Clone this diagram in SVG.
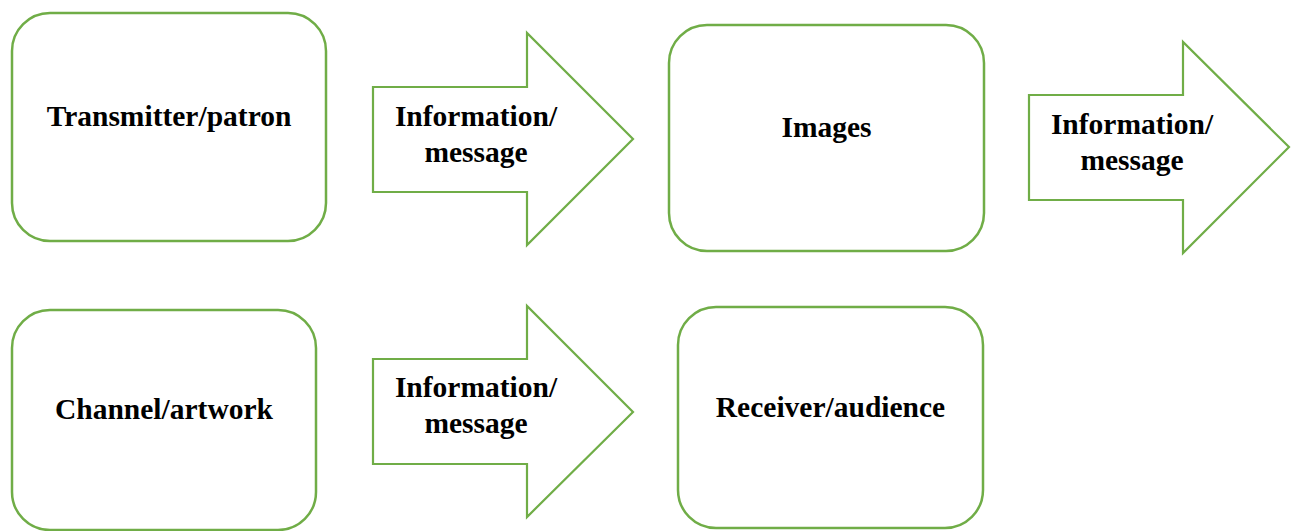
<svg xmlns="http://www.w3.org/2000/svg" width="1293" height="531" viewBox="0 0 1293 531">
<style>
.box{fill:#fff;stroke:#70AD47;stroke-width:2.5}
.arr{fill:#fff;stroke:#70AD47;stroke-width:2.2;stroke-linejoin:miter}
.t{font-family:"Liberation Serif","Times New Roman",serif;font-weight:bold;font-size:29.5px;fill:#000;text-anchor:middle}
</style>
<rect width="1293" height="531" fill="#fff"/>
<g id="transmitter">
<rect class="box" x="12" y="13" width="314" height="228" rx="38" ry="38"/>
<text class="t" x="169" y="126">Transmitter/patron</text>
</g>
<g id="images">
<rect class="box" x="669" y="25" width="315" height="226" rx="38" ry="38"/>
<text class="t" x="826.5" y="137">Images</text>
</g>
<g id="channel">
<rect class="box" x="12" y="310" width="304" height="220" rx="38" ry="38"/>
<text class="t" x="164" y="419">Channel/artwork</text>
</g>
<g id="receiver">
<rect class="box" x="678" y="307" width="305" height="221" rx="38" ry="38"/>
<text class="t" x="830.5" y="417">Receiver/audience</text>
</g>
<g id="connectors">
<g id="arrow1">
<polygon class="arr" points="373,87 527,87 527,33 633,139 527,245 527,192 373,192"/>
<text class="t" x="476" y="126">Information/</text>
<text class="t" x="476" y="162">message</text>
</g>
<g id="arrow2">
<polygon class="arr" points="1029,95 1183,95 1183,42 1289,147 1183,253 1183,200 1029,200"/>
<text class="t" x="1132" y="134">Information/</text>
<text class="t" x="1132" y="170">message</text>
</g>
<g id="arrow3">
<polygon class="arr" points="373,359 527,359 527,306 633,412 527,517 527,464 373,464"/>
<text class="t" x="476" y="397">Information/</text>
<text class="t" x="476" y="433">message</text>
</g>
</g>
</svg>
